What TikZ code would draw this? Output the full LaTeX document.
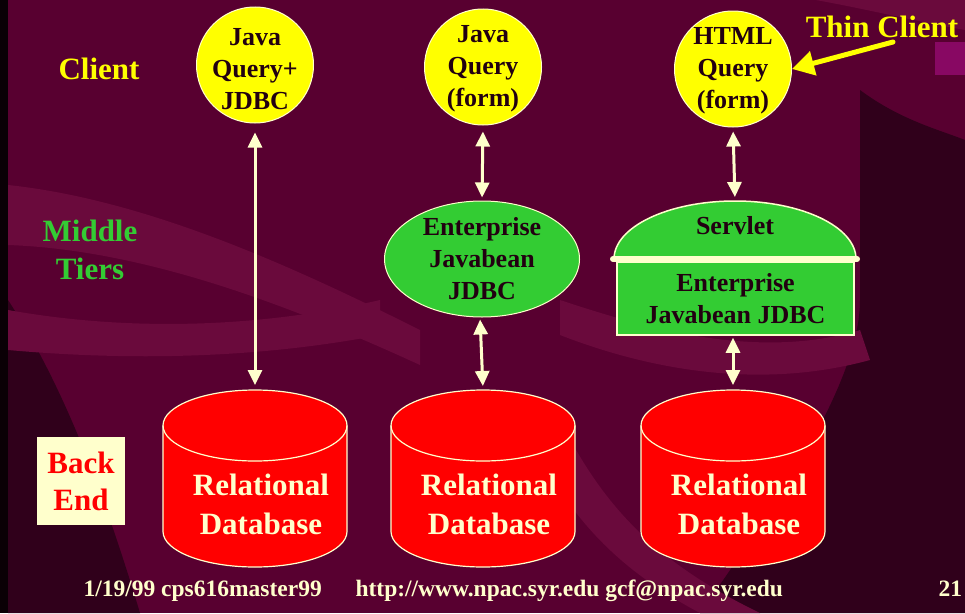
\documentclass[tikz,border=0pt]{standalone}
\usepackage{fontspec}
\setmainfont{Liberation Serif}
\usetikzlibrary{shapes.geometric,arrows.meta}
\definecolor{bg}{RGB}{88,0,48}
\definecolor{bgdark}{RGB}{48,0,27}
\definecolor{bglight}{RGB}{106,10,60}
\definecolor{yel}{RGB}{255,255,0}
\definecolor{grn}{RGB}{51,204,51}
\definecolor{cream}{RGB}{255,255,204}
\definecolor{dark}{RGB}{34,0,17}
\definecolor{dbred}{RGB}{255,0,0}
\tikzset{
  client/.style={ellipse, fill=yel, draw=cream, line width=1pt, minimum width=117pt, minimum height=116pt, inner sep=0pt},
  cltext/.style={align=center, text=dark, font=\bfseries\fontsize{26}{32}\selectfont},
  ejbell/.style={ellipse, fill=grn, draw=cream, line width=1pt, minimum width=195pt, minimum height=116pt,
    inner xsep=-20pt, inner ysep=-25pt, align=center, text=dark, font=\bfseries\fontsize{26}{32}\selectfont},
  ejbbox/.style={rectangle, fill=grn, draw=cream, line width=1.5pt, minimum width=237pt, minimum height=73pt,
    align=center, text=dark, font=\bfseries\fontsize{26}{32}\selectfont},
  greenfill/.style={fill=grn, draw=cream, line width=1.5pt},
  cyl/.style={fill=dbred, draw=cream, line width=1.2pt},
  dbtext/.style={align=center, text=cream, font=\bfseries\fontsize{31}{39}\selectfont},
  tier/.style={align=center, font=\bfseries\fontsize{31}{38}\selectfont},
  dbl/.style={draw=cream, line width=3pt, {Triangle[length=15pt,width=14pt]}-{Triangle[length=15pt,width=14pt]}},
  thin/.style={draw=yel, line width=5pt, line cap=round, -{Triangle[length=22pt,width=24pt]}},
  foot/.style={text=cream, font=\bfseries\fontsize{23.5}{26}\selectfont, anchor=base west}
}
\begin{document}
\begin{tikzpicture}[x=1pt,y=1pt]
\useasboundingbox (0,0) rectangle (965,-613);
% background
\fill[bg] (0,0) rectangle (965,-613);
\fill[black!80!bgdark] (0,0) rectangle (8,-613);
\fill[bgdark] (8,0) -- (200,0) .. controls (150,60) and (120,140) .. (8,180) -- cycle;
\fill[bgdark] (860,-90) .. controls (900,-120) and (940,-130) .. (965,-140) -- (965,-613) -- (700,-613) .. controls (780,-500) and (860,-380) .. (860,-300) -- cycle;
\fill[bgdark] (8,-300) .. controls (60,-380) and (100,-480) .. (140,-613) -- (8,-613) -- cycle;
\fill[bglight] (8,-185) .. controls (150,-200) and (300,-270) .. (420,-330) -- (420,-365) .. controls (300,-310) and (150,-250) .. (8,-245) -- cycle;
\fill[bglight] (8,-310) .. controls (120,-330) and (250,-330) .. (380,-300) -- (380,-335) .. controls (250,-360) and (120,-360) .. (8,-350) -- cycle;
\fill[bglight] (560,-300) .. controls (650,-330) and (760,-360) .. (860,-330) -- (870,-360) .. controls (760,-390) and (650,-370) .. (560,-335) -- cycle;
\fill[bglight] (700,-613) .. controls (600,-560) and (560,-500) .. (520,-420) -- (560,-420) .. controls (600,-500) and (650,-560) .. (760,-613) -- cycle;
\fill[bglight] (540,0) .. controls (700,40) and (850,-10) .. (965,-30) -- (965,0) -- cycle;
\fill[bglight!80!magenta] (935,-42) rectangle (965,-75);
% labels
\node[tier, text=yel] (lclient) at (99,-69) {Client};
\node[tier, text=grn] (lmid) at (90,-250) {Middle\\Tiers};
\node[fill=cream, minimum width=88pt, minimum height=88pt, inner sep=0pt, align=center, text=dbred,
  font=\bfseries\fontsize{31}{37}\selectfont] (lback) at (81,-481) {Back\\End};
% clients
\node[client] (c1) at (255,-65) {};
\node[cltext] (c1t) at (255,-69) {Java\\Query+\\JDBC};
\node[client] (c2) at (483,-67) {};
\node[cltext] (c2t) at (483,-69) {Java\\Query\\(form)};
\node[client] (c3) at (733,-69) {};
\node[cltext] (c3t) at (733,-71) {HTML\\Query\\(form)};
% middle tier
\node[ejbell] (ejb) at (482,-259) {Enterprise\\Javabean\\JDBC};
\fill[greenfill] (614,-259) arc[start angle=180, end angle=0, x radius=121, y radius=58] -- cycle;
\coordinate (domeTop) at (735,-201);
\node[text=dark, font=\bfseries\fontsize{26}{32}\selectfont] (servlet) at (735,-226) {Servlet};
\node[ejbbox] (ejbbox) at (735.5,-298.5) {Enterprise\\Javabean JDBC};
\draw[draw=cream, line width=6pt, line cap=round] (613,-259) -- (857,-259);
% databases
\foreach \cx/\nm in {255/db1, 483/db2, 733/db3}{
  \fill[cyl] (\cx-92,-425.5) -- (\cx-92,-531.5) arc[start angle=180, end angle=360, x radius=92, y radius=35.5]
     -- (\cx+92,-425.5) arc[start angle=0, end angle=180, x radius=92, y radius=35.5] -- cycle;
  \draw[draw=cream, line width=1.2pt] (\cx-92,-425.5) arc[start angle=180, end angle=360, x radius=92, y radius=35.5];
  \coordinate (\nm top) at (\cx,-389);
  \node[dbtext] (\nm) at (\cx+6,-504) {Relational\\Database};
}
% connectors
\draw[dbl, shorten <=9pt, shorten >=4pt] (c1.south) -- (db1top);
\draw[dbl, shorten <=6pt, shorten >=3pt] (c2.south) -- (ejb.north);
\draw[dbl, shorten <=2pt, shorten >=3pt] ([xshift=-2pt]ejb.south) -- (db2top);
\draw[dbl, shorten <=4pt, shorten >=4pt] (c3.south) -- (domeTop);
\draw[dbl, shorten <=2pt, shorten >=4pt] (ejbbox.south -| c3.south) -- (db3top);
% thin client
\node[text=yel, font=\bfseries\fontsize{31}{36}\selectfont] (thin) at (882,-27) {Thin Client};
\coordinate (thinstart) at (893,-42);
\draw[thin] (thinstart) -- (c3.east);
% footer
\node[foot] (f1) at (80,-596) {1/19/99 cps616master99};
\node[foot] (f2) at (352,-596) {http://www.npac.syr.edu gcf@npac.syr.edu};
\node[foot] (f3) at (935,-596) {21};
\end{tikzpicture}
\end{document}
